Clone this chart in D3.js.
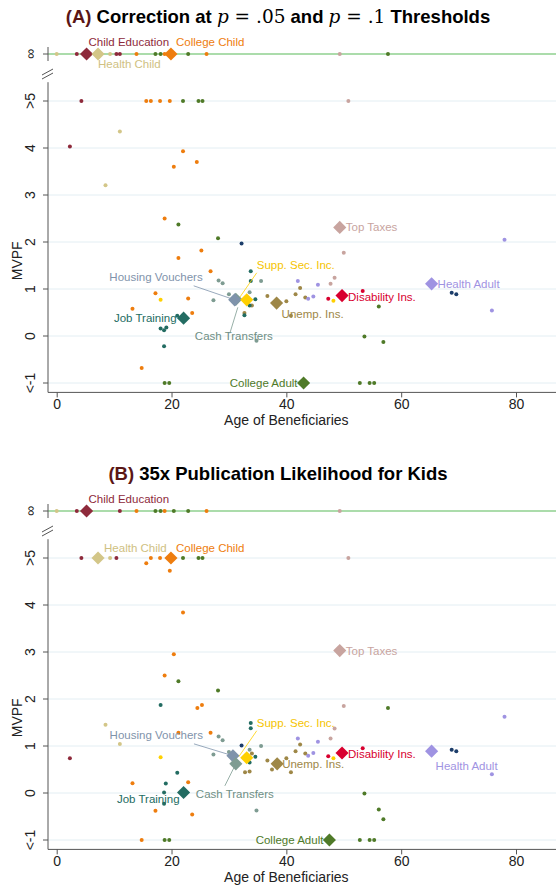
<!DOCTYPE html>
<html><head><meta charset="utf-8">
<script src="https://cdn.jsdelivr.net/npm/d3@7"></script>
<style>body{margin:0;background:#fff}text{font-family:"Liberation Sans",Arial,sans-serif}</style>
</head><body><svg id="c" width="556" height="895"></svg>
<script>
const INF = Infinity;
const colors = {ce:"#8e2a3b", hc:"#d3c688", cc:"#ee7d0e", ca:"#4f7a28", tt:"#c8a49f", hv:"#7f93ab",
  ss:"#ffd000", ct:"#7e9c92", jt:"#236c62", ui:"#9e8747", di:"#d8002f", ha:"#9f93e2", nv:"#1c3d6a"};
const labelColors = Object.assign({}, colors, {hc:"#cfc182", ss:"#f5c400", ct:"#6f8f85"});
const names = {ce:"Child Education", hc:"Health Child", cc:"College Child", ca:"College Adult", tt:"Top Taxes",
  hv:"Housing Vouchers", ss:"Supp. Sec. Inc.", ct:"Cash Transfers", jt:"Job Training", ui:"Unemp. Ins.",
  di:"Disability Ins.", ha:"Health Adult"};
const yTicks = [-1,0,1,2,3,4,5,INF];
const yTickLabels = ["<-1","0","1","2","3","4",">5","\u221e"];
const xTicks = [0,20,40,60,80];

// Panel A small dots: [group, age, mvpf]
const dotsA = [
 ["hc",0,INF],["ce",3.5,INF],["hc",9.3,INF],["ce",10.4,INF],["ce",11,INF],["cc",13.9,INF],["ca",17.2,INF],["ca",18.1,INF],
 ["cc",18.8,INF],["ca",22.9,INF],["cc",26.1,INF],["tt",49.3,INF],["ca",57.7,INF],
 ["ce",4.3,5],["cc",15.6,5],["cc",16.4,5],["cc",18,5],["cc",19.7,5],["ca",22,5],["ca",24.7,5],["ca",25.4,5],["tt",50.8,5],
 ["ce",2.3,4.03],["hc",11,4.35],["cc",22,3.93],["cc",20.4,3.6],["cc",24.4,3.7],["hc",8.5,3.21],["cc",18.8,2.5],
 ["ca",21.2,2.37],["ca",28.1,2.08],["nv",32.2,1.97],["cc",25.2,1.82],["cc",21.2,1.66],["cc",26.8,1.38],["jt",33.8,1.38],
 ["ct",28.2,1.18],["ct",28.9,1.12],["jt",33.8,1.17],["ct",35.6,1.17],["ha",42,1.17],["ha",45.5,1.09],
 ["tt",47.7,1.11],["tt",48.4,1.24],["tt",50,1.77],
 ["ui",42.4,1.02],["ui",41.6,0.89],["ui",43.3,0.82],["ui",40,0.74],["ui",36.7,0.85],["ui",40.8,0.43],["ui",32.7,0.49],["ui",34,0.65],
 ["ha",43.8,0.79],["ha",44.7,0.84],["ha",75.8,0.54],["ha",78,2.05],["di",47.3,0.79],["di",53.3,0.96],["ss",48.2,0.75],["ss",18.1,0.77],
 ["cc",17.2,0.91],["cc",22.9,0.8],["cc",13.2,0.58],["cc",23.6,0.49],["cc",14.8,-0.68],
 ["ct",30,0.89],["ct",27.3,0.76],["ct",33.6,0.93],["jt",34.6,0.78],["jt",33.6,0.65],["jt",32.7,0.44],["jt",21,0.43],
 ["jt",18.1,0.16],["jt",18.7,0.12],["jt",19.1,0.18],["jt",18.7,-0.22],["ct",34.8,-0.1],
 ["ca",56.1,0.63],["ca",53.6,-0.01],["ca",56.9,-0.13],["ca",18.8,-1],["ca",19.6,-1],["ca",52.8,-1],["ca",54.5,-1],["ca",55.3,-1],
 ["nv",68.8,0.92],["nv",69.6,0.89]
];
const diamondsA = [["ct",31.2,0.78],["hv",31,0.77],["ss",33.1,0.77],["ui",38.3,0.70],["di",49.7,0.86],["ha",65.3,1.11],
 ["jt",22.1,0.38],["ca",43,-1],["tt",49.3,2.31],["ce",5.2,INF],["hc",7.2,INF],["cc",19.9,INF]];

const dotsB = [
 ["hc",0,INF],["ce",3.5,INF],["ce",11,INF],["cc",13.9,INF],["ca",17.2,INF],["ca",18.1,INF],["cc",18.8,INF],["ca",20.4,INF],
 ["ca",22.9,INF],["cc",26.1,INF],["tt",49.3,INF],
 ["ce",4.3,5],["hc",9.3,5],["ce",10.4,5],["cc",16.4,5],["cc",18,5],["ca",22,5],["ca",24.7,5],["ca",25.4,5],["tt",50.8,5],
 ["cc",15.6,4.89],["cc",19.7,4.73],["cc",22,3.84],["cc",20.4,2.95],["cc",18.8,2.5],["ca",21.2,2.38],
 ["ca",28.1,2.18],["jt",18.1,1.87],["cc",24.5,1.81],["cc",25.3,1.87],["tt",50,1.85],["ca",57.7,1.81],["ha",78,1.62],
 ["hc",8.5,1.45],["hc",11,1.04],["jt",33.8,1.49],["jt",33.8,1.38],["cc",21.2,1.28],["cc",26.8,1.28],
 ["ct",28.2,1.2],["ct",28.9,1.12],["ha",42,1.16],["ha",45.5,1.09],["tt",47.7,1.16],["tt",48.4,1.37],
 ["ui",42.4,1.03],["ui",41.6,0.89],["ui",43.3,0.84],["ui",40,0.74],["ui",36.7,0.69],["ui",37.5,0.5],["ui",40.8,0.44],
 ["ui",32.8,0.44],["ui",33.6,0.46],["ui",34,0.84],["nv",32.2,1.01],
 ["ct",35.6,1.0],["ct",30,0.87],["ct",27.3,0.82],["ct",33.6,0.92],["ct",34.8,-0.37],
 ["jt",34.6,0.77],["jt",33.6,0.65],["jt",21,0.43],["jt",19,0.2],["jt",18.7,0.01],["jt",18.7,-0.23],
 ["ce",2.3,0.74],["ss",18.1,0.76],["ss",48.2,0.74],["di",47.3,0.78],["di",53.3,0.95],
 ["ha",43.8,0.79],["ha",44.7,0.85],["ha",75.8,0.4],
 ["cc",13.2,0.21],["cc",22.9,0.23],["cc",17.2,-0.38],["cc",23.6,-0.46],["cc",14.8,-1],
 ["ca",53.6,-0.01],["ca",56.1,-0.35],["ca",56.9,-0.56],["ca",18.8,-1],["ca",19.6,-1],["ca",52.8,-1],["ca",54.5,-1],["ca",55.3,-1],
 ["nv",68.8,0.92],["nv",69.6,0.89]
];
const diamondsB = [["hv",30.7,0.79],["ct",31.2,0.62],["ss",33.1,0.75],["ui",38.4,0.62],["di",49.7,0.85],["ha",65.3,0.89],
 ["jt",22.1,0.01],["ca",47.5,-1],["tt",49.3,3.03],["ce",5.2,INF],["hc",7.2,5],["cc",19.9,5]];

// label placement (pixel offsets from diamond, anchor, optional leader [x1,y1,x2,y2] offsets)
const labelsA = {ce:[2,-8,"start"],hc:[0,14,"start"],cc:[5,-8,"start"],ca:[-6,4,"end"],tt:[6,4,"start"],
 hv:[-32,-19,"end",[-41,-14,-3,-1]],ss:[10,-31,"start",[10,-27,-8,-1]],ct:[-2,41,"middle",[-6,34,2,8]],
 jt:[-7,4,"end"],ui:[5,15,"start"],di:[6,5,"start"],ha:[6,4,"start"]};
const labelsB = {ce:[2,-8,"start"],hc:[6,-6,"start"],cc:[5,-6,"start"],ca:[-6,4,"end"],tt:[6,4,"start"],
 hv:[-30,-17,"end",[-39,-12,-3,-1]],ss:[10,-31,"start",[10,-27,-8,-1]],ct:[-1,34,"middle",[-11,22,-2,4]],
 jt:[-4,10,"end"],ui:[5,4,"start"],di:[6,5,"start"],ha:[4,19,"start"]};

const svg = d3.select("#c");
const x = d3.scaleLinear().domain([0,80]).range([56.7,516]);
const yv = v => v === INF ? 6 : v;

function panel(top, title, dots, diamonds, labels) {
  const y = d3.scaleLinear().domain([-1,6]).range([top+329, top]);
  const g = svg.append("g");
  const axisBottom = y(-1.2);
  // title
  const t = g.append("text").attr("x", 278).attr("y", top-31).attr("text-anchor","middle")
    .style("font-size","18.5px").style("font-weight","bold").style("font-family","'Liberation Sans',Arial");
  title.forEach(([s,st]) => {
    const ts = t.append("tspan").text(s);
    if (st==="a") ts.attr("fill","#5a1616");
    if (st==="m") ts.style("font-family","'DejaVu Serif',serif").style("font-style","italic").style("font-weight","normal");
    if (st==="n") ts.style("font-family","'DejaVu Serif',serif").style("font-weight","normal");
  });
  // gridlines
  g.selectAll(".grid").data(yTicks.filter(v => v !== INF)).join("line")
    .attr("x1",48).attr("x2",556).attr("y1",d=>y(d)).attr("y2",d=>y(d))
    .attr("stroke","#e3eef3").attr("stroke-width",1);
  g.append("line").attr("x1",48).attr("x2",556).attr("y1",y(6)).attr("y2",y(6))
    .attr("stroke","#8fd18f").attr("stroke-width",1.6);
  // y axis with break
  const axisX = 48;
  g.append("line").attr("x1",axisX).attr("x2",axisX).attr("y1",y(5.4)).attr("y2",axisBottom).attr("stroke","#555");
  g.append("line").attr("x1",axisX).attr("x2",axisX).attr("y1",y(6)-7).attr("y2",y(6)+7).attr("stroke","#555");
  [0,4].forEach(o => g.append("line").attr("x1",axisX-6).attr("x2",axisX+5).attr("y1",y(6)+21+o).attr("y2",y(6)+15+o).attr("stroke","#555"));
  g.selectAll(".yt").data(yTicks).join("line").attr("x1",axisX-5).attr("x2",axisX)
    .attr("y1",d=>y(yv(d))).attr("y2",d=>y(yv(d))).attr("stroke","#555");
  g.selectAll(".ytl").data(yTicks).join("text")
    .attr("transform",d=>`translate(${axisX-13},${y(yv(d))}) rotate(-90)`)
    .attr("text-anchor","middle").style("font-size","14px").attr("fill","#222")
    .text((d,i)=>yTickLabels[i]);
  g.append("text").attr("transform",`translate(22,${y(1.6)}) rotate(-90)`).attr("text-anchor","middle")
    .style("font-size","14px").attr("fill","#222").text("MVPF");
  // x axis
  const xa = g.append("g").attr("transform",`translate(0,${axisBottom})`)
    .call(d3.axisBottom(x).tickValues(xTicks).tickSize(5).tickFormat(d3.format("d")));
  xa.select(".domain").attr("d",`M48,0H556`).attr("stroke","#555");
  xa.selectAll(".tick line").attr("stroke","#555");
  xa.selectAll("text").style("font-size","14px").attr("fill","#222").attr("y",7).attr("dy","0.71em")
    .style("font-family","'Liberation Sans',Arial");
  g.append("text").attr("x",x(40)).attr("y",axisBottom+33).attr("text-anchor","middle")
    .style("font-size","14px").attr("fill","#222").text("Age of Beneficiaries");
  // dots
  g.selectAll(".dot").data(dots).join("circle")
    .attr("cx",d=>x(d[1])).attr("cy",d=>y(yv(d[2]))).attr("r",2).attr("fill",d=>colors[d[0]]);
  // leader lines
  diamonds.forEach(([k,a,v]) => {
    const L = labels[k]; if (!L[3]) return;
    const cx = x(a), cy = y(yv(v));
    g.append("line").attr("x1",cx+L[3][0]).attr("y1",cy+L[3][1]).attr("x2",cx+L[3][2]).attr("y2",cy+L[3][3])
      .attr("stroke",colors[k]).attr("stroke-width",0.8);
  });
  // diamonds
  g.selectAll(".dia").data(diamonds).join("path")
    .attr("d",d3.symbol(d3.symbolDiamond2, 110))
    .attr("transform",d=>`translate(${x(d[1])},${y(yv(d[2]))})`)
    .attr("fill",d=>colors[d[0]]);
  // labels
  g.selectAll(".lab").data(diamonds).join("text")
    .attr("x",d=>x(d[1])+labels[d[0]][0]).attr("y",d=>y(yv(d[2]))+labels[d[0]][1])
    .attr("text-anchor",d=>labels[d[0]][2]).style("font-size","11.5px")
    .attr("fill",d=>labelColors[d[0]]).text(d=>names[d[0]]);
}

panel(54, [["(A)","a"],[" Correction at "],["p","m"],[" = .05","n"],[" and "],["p","m"],[" = .1","n"],[" Thresholds"]], dotsA, diamondsA, labelsA);
panel(511, [["(B)","a"],[" 35x Publication Likelihood for Kids"]], dotsB, diamondsB, labelsB);
</script></body></html>
